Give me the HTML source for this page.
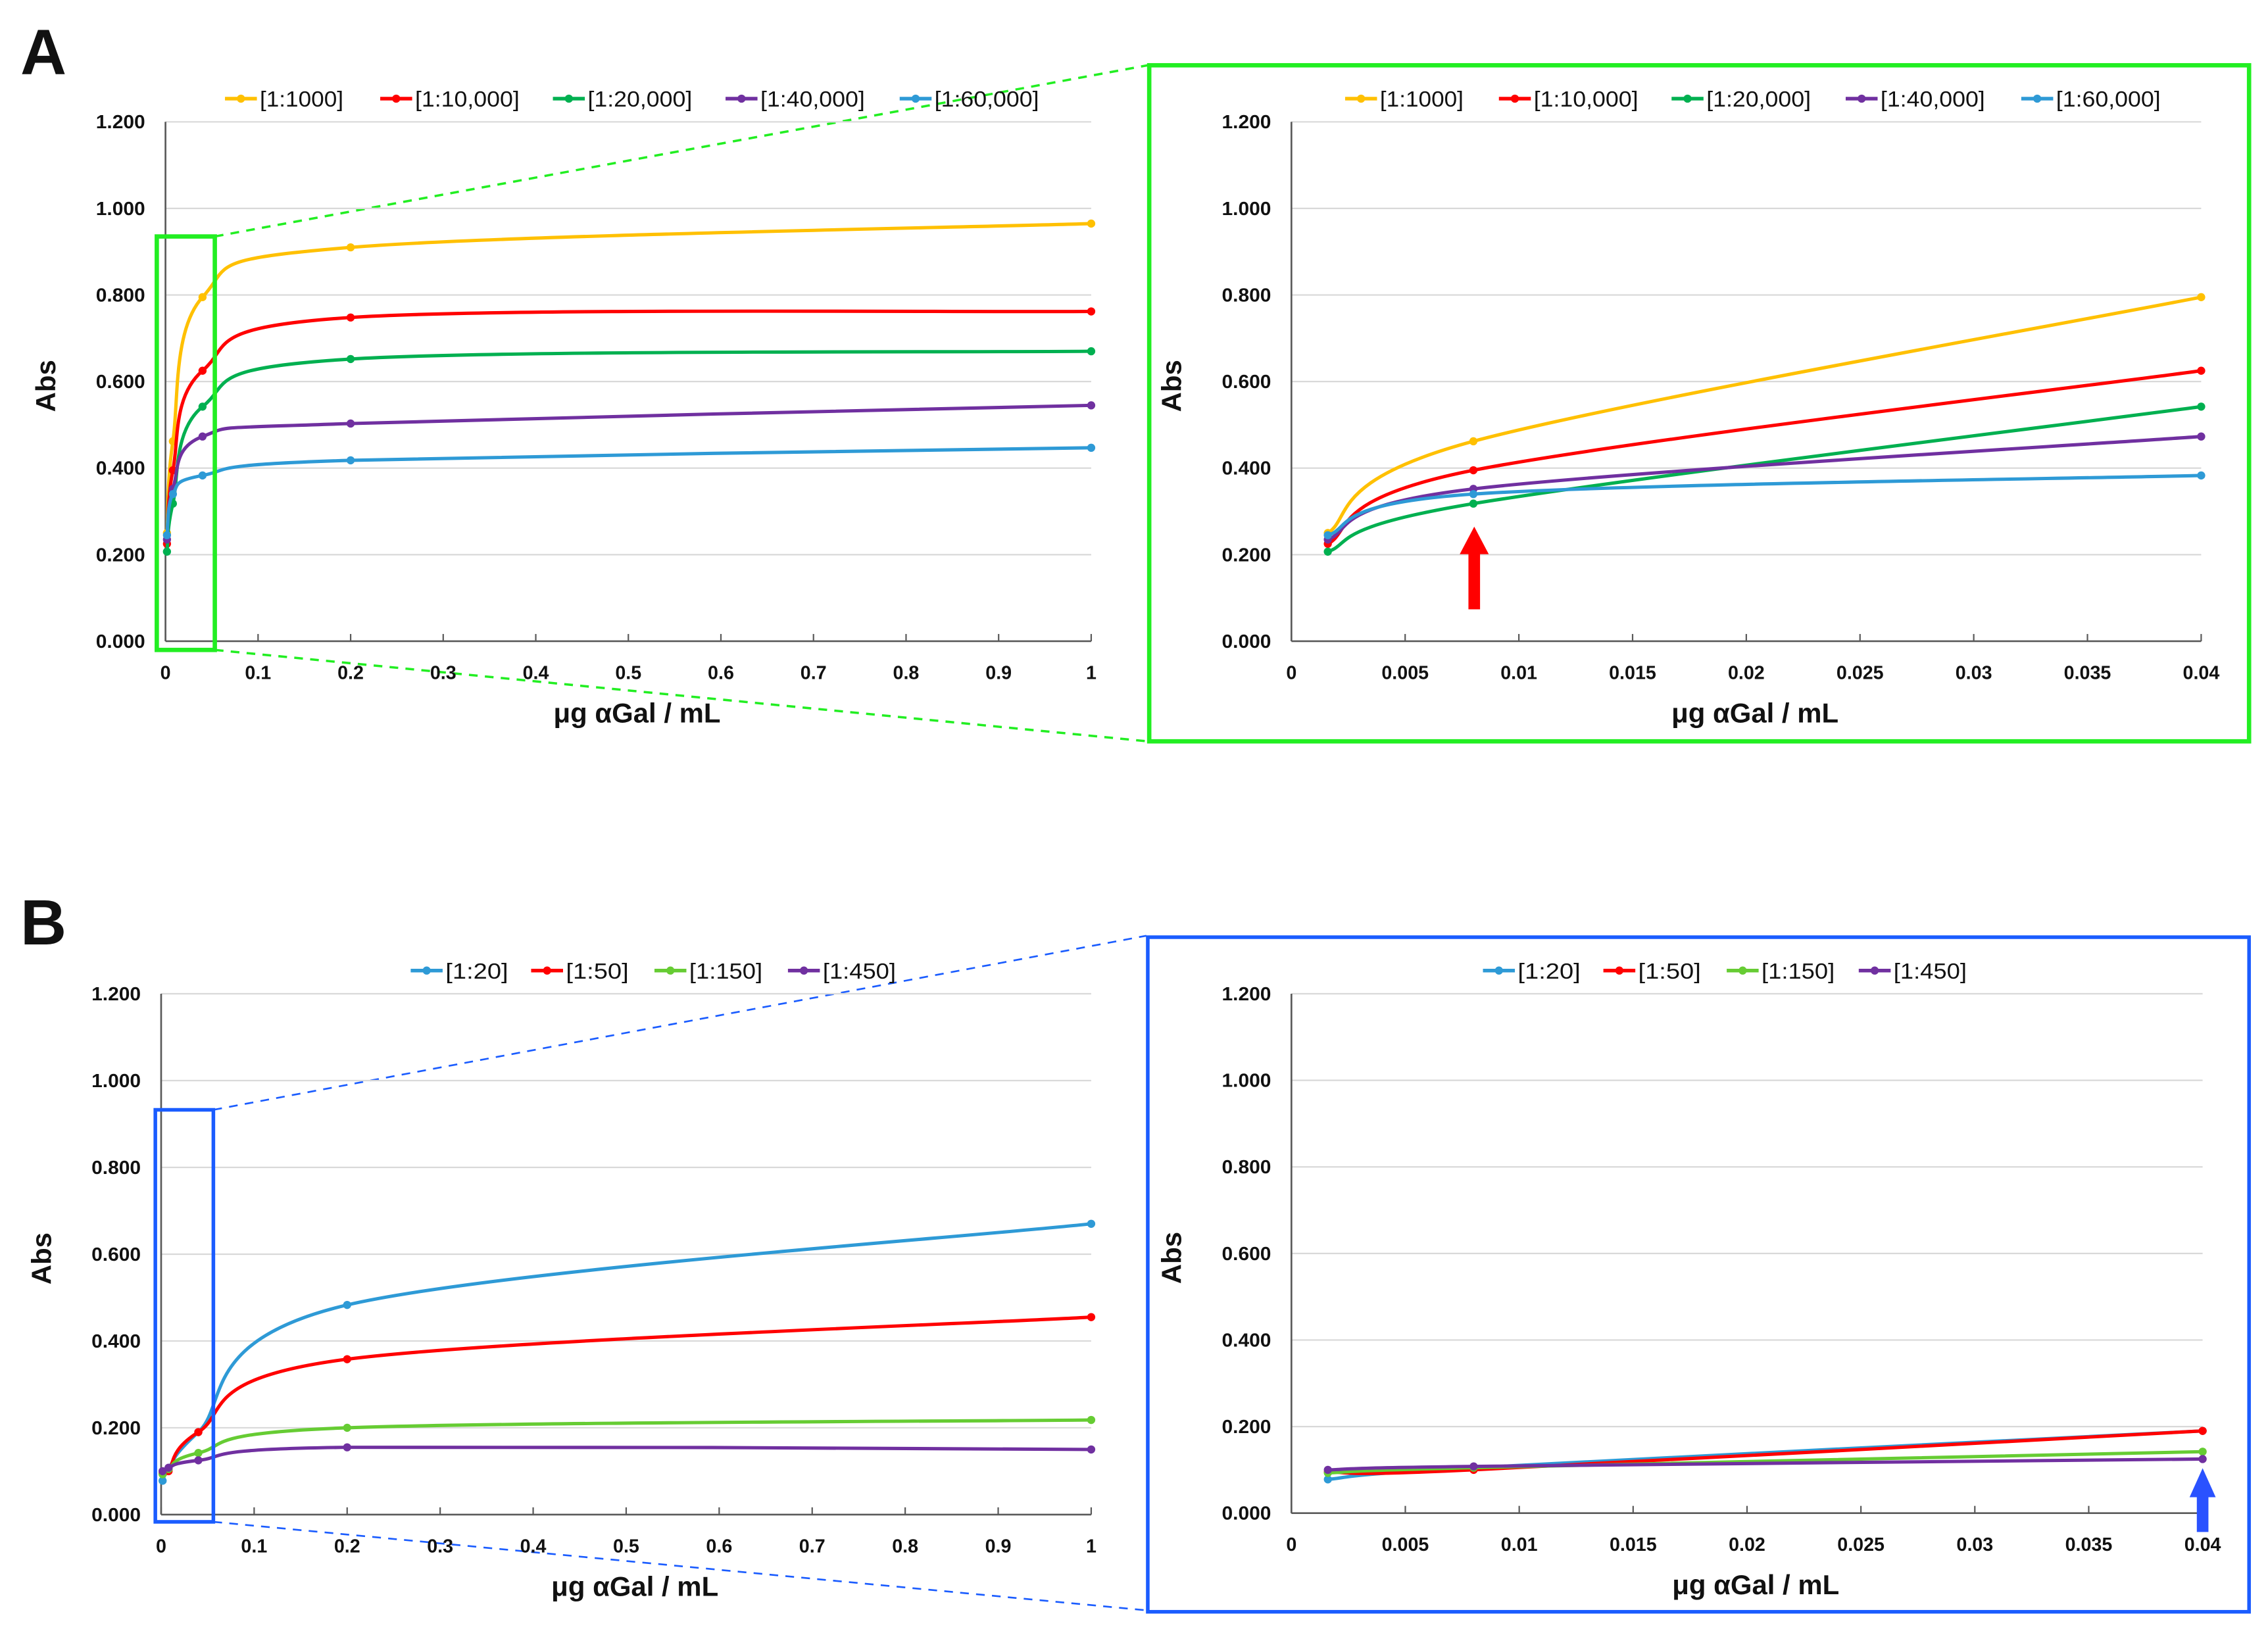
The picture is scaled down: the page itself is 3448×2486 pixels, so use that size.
<!DOCTYPE html>
<html><head><meta charset="utf-8">
<style>
html,body{margin:0;padding:0;background:#fff;}
svg{display:block;}
text{font-family:"Liberation Sans",sans-serif;fill:#111;}
</style></head>
<body>
<svg id="fig" width="3448" height="2486" viewBox="0 0 1563 1127" xmlns="http://www.w3.org/2000/svg">
<rect x="0" y="0" width="1563" height="1127" fill="#fff"/>
<text x="14" y="51" font-size="44" font-weight="bold">A</text>
<text x="14" y="651" font-size="44" font-weight="bold">B</text>
<!-- zoom boxes & connectors -->
<g stroke="#22ee22" stroke-width="1.6" stroke-dasharray="6,5" fill="none">
<line x1="148" y1="163" x2="791" y2="45"/>
<line x1="148" y1="448" x2="791" y2="511"/>
</g>
<g stroke="#1a5cff" stroke-width="1.2" stroke-dasharray="6,5" fill="none">
<line x1="147" y1="765" x2="790" y2="645"/>
<line x1="147" y1="1049" x2="790" y2="1110"/>
</g>
<rect x="792" y="45" width="758" height="466" fill="#fff" stroke="#22ee22" stroke-width="3"/>
<rect x="791" y="646" width="759" height="465" fill="#fff" stroke="#1a5cff" stroke-width="2.5"/>
<g id="charts"></g>
<rect x="108" y="163" width="40" height="285" fill="none" stroke="#22ee22" stroke-width="3"/>
<rect x="107" y="765" width="40" height="284" fill="none" stroke="#1a5cff" stroke-width="2.5"/>
<g fill="#ff0000">
<rect x="1012" y="380" width="8" height="40"/>
<polygon points="1006,382 1026,382 1016,363"/>
</g>
<g fill="#2a52ff">
<rect x="1514" y="1030" width="8" height="26"/>
<polygon points="1509,1032 1527,1032 1518,1012"/>
</g>
</svg>
<script>
// ---- data ----
const xA = [0.0016, 0.008, 0.04, 0.2, 1];
const namesA = ["[1:1000]", "[1:10,000]", "[1:20,000]", "[1:40,000]", "[1:60,000]"];
const colorsA = ["#ffc000", "#ff0000", "#00b050", "#7030a0", "#2e9ad6"];
const a1000 = [0.250, 0.462, 0.795, 0.910, 0.965];
const a10000 = [0.225, 0.395, 0.625, 0.748, 0.762];
const a20000 = [0.207, 0.318, 0.542, 0.652, 0.670];
const a40000 = [0.235, 0.352, 0.473, 0.503, 0.545];
const a60000 = [0.245, 0.340, 0.383, 0.418, 0.447];
const xB = [0.0016, 0.008, 0.04, 0.2, 1];
const namesB = ["[1:20]", "[1:50]", "[1:150]", "[1:450]"];
const colorsB = ["#2e9ad6", "#ff0000", "#66cc33", "#7030a0"];
const b20 = [0.078, 0.105, 0.190, 0.483, 0.670];
const b50 = [0.095, 0.100, 0.190, 0.358, 0.455];
const b150 = [0.093, 0.105, 0.142, 0.200, 0.218];
const b450 = [0.100, 0.108, 0.125, 0.155, 0.150];
const yTicks = ["0.000", "0.200", "0.400", "0.600", "0.800", "1.000", "1.200"];
const xTicksFull = ["0", "0.1", "0.2", "0.3", "0.4", "0.5", "0.6", "0.7", "0.8", "0.9", "1"];
const xTicksZoom = ["0", "0.005", "0.01", "0.015", "0.02", "0.025", "0.03", "0.035", "0.04"];

const NS = "http://www.w3.org/2000/svg";
const root = document.getElementById("charts");
function mk(tag, attrs, parent) {
  const e = document.createElementNS(NS, tag);
  for (const k in attrs) e.setAttribute(k, attrs[k]);
  parent.appendChild(e);
  return e;
}
function smoothPath(pts) {
  let d = "M" + pts[0][0] + "," + pts[0][1];
  for (let i = 0; i < pts.length - 1; i++) {
    const p0 = pts[Math.max(0, i - 1)], p1 = pts[i], p2 = pts[i + 1], p3 = pts[Math.min(pts.length - 1, i + 2)];
    const t = 1 / 6;
    const c1 = [p1[0] + (p2[0] - p0[0]) * t, p1[1] + (p2[1] - p0[1]) * t];
    const c2 = [p2[0] - (p3[0] - p1[0]) * t, p2[1] - (p3[1] - p1[1]) * t];
    d += " C" + c1[0] + "," + c1[1] + " " + c2[0] + "," + c2[1] + " " + p2[0] + "," + p2[1];
  }
  return d;
}
function chart(cfg) {
  const g = mk("g", {}, root);
  
  
  const xs = v => cfg.x0 + (v - cfg.xmin) / (cfg.xmax - cfg.xmin) * (cfg.x1 - cfg.x0);
  const ys = v => cfg.y0 - v / 1.2 * (cfg.y0 - cfg.y1);
  // gridlines and y labels
  yTicks.forEach((t, i) => {
    const y = ys(parseFloat(t));
    if (i > 0) {
      const gl = mk("line", {x1: cfg.x0, x2: cfg.x1, y1: y, y2: y, stroke: "#d9d9d9", "stroke-width": 1}, g);
      
      
    }
    const tl = mk("text", {x: cfg.x0 - 14, y: y + 4.5, "font-size": 13, "font-weight": "bold", "text-anchor": "end", textLength: 34, lengthAdjust: "spacingAndGlyphs"}, g);
    tl.textContent = t;
    
    
  });
  // axes
  const ax = mk("line", {x1: cfg.x0, x2: cfg.x0, y1: cfg.y1, y2: cfg.y0, stroke: "#595959", "stroke-width": 1.2}, g);
  
  
  const bx = mk("line", {x1: cfg.x0, x2: cfg.x1, y1: cfg.y0, y2: cfg.y0, stroke: "#595959", "stroke-width": 1.2}, g);
  
  
  cfg.xt.forEach(t => {
    const x = xs(parseFloat(t));
    const tk = mk("line", {x1: x, x2: x, y1: cfg.y0, y2: cfg.y0 - 5, stroke: "#595959", "stroke-width": 1}, g);
    
    
    const tl = mk("text", {x: x, y: cfg.y0 + 26, "font-size": 13, "font-weight": "bold", "text-anchor": "middle"}, g);
    tl.textContent = t;
    
    
  });
  const xt = mk("text", {x: (cfg.x0 + cfg.x1) / 2 + 6, y: cfg.y0 + 56, "font-size": 19, "font-weight": "bold", "text-anchor": "middle"}, g);
  xt.textContent = "μg αGal / mL";
  
  
  const cy = (cfg.y0 + cfg.y1) / 2 + 3;
  const yt = mk("text", {x: cfg.x0 - 76, y: cy, "font-size": 19, "font-weight": "bold", "text-anchor": "middle", transform: "rotate(-90 " + (cfg.x0 - 76) + " " + cy + ")"}, g);
  yt.textContent = "Abs";
  
  
  // series
  cfg.series.forEach((s, i) => {
    const pts = [];
    cfg.xv.forEach((xv, j) => { if (xv <= cfg.xmax + 1e-9) pts.push([xs(xv), ys(s[j])]); });
    const p = mk("path", {d: smoothPath(pts), fill: "none", stroke: cfg.colors[i], "stroke-width": 2.3, "stroke-linejoin": "round"}, g);
    
    
    pts.forEach(pt => {
      const c = mk("circle", {cx: pt[0], cy: pt[1], r: 2.8, fill: cfg.colors[i]}, g);
      
      
    });
  });
  // legend
  cfg.names.forEach((n, i) => {
    const lx = cfg.legX[i];
    const ly = cfg.legY;
    const lg = mk("g", {}, g);
    
    
    mk("line", {x1: lx, x2: lx + 22, y1: ly, y2: ly, stroke: cfg.colors[i], "stroke-width": 2.5}, lg);
    mk("circle", {cx: lx + 11, cy: ly, r: 2.8, fill: cfg.colors[i]}, lg);
    const t = mk("text", {x: lx + 24, y: ly + 5.5, "font-size": 15, textLength: n.length * 7.2, lengthAdjust: "spacingAndGlyphs"}, lg);
    t.textContent = n;
  });
}
const seriesA = [a1000, a10000, a20000, a40000, a60000];
const seriesB = [b20, b50, b150, b450];
chart({name: "chart-a-full", x0: 114, x1: 752, y0: 442, y1: 84, xmin: 0, xmax: 1, xv: xA, xt: xTicksFull, series: seriesA, colors: colorsA, names: namesA, legY: 68, legX: [155, 262, 381, 500, 620]});
chart({name: "chart-a-zoom", x0: 890, x1: 1517, y0: 442, y1: 84, xmin: 0, xmax: 0.04, xv: xA, xt: xTicksZoom, series: seriesA, colors: colorsA, names: namesA, legY: 68, legX: [927, 1033, 1152, 1272, 1393]});
chart({name: "chart-b-full", x0: 111, x1: 752, y0: 1044, y1: 685, xmin: 0, xmax: 1, xv: xB, xt: xTicksFull, series: seriesB, colors: colorsB, names: namesB, legY: 669, legX: [283, 366, 451, 543]});
chart({name: "chart-b-zoom", x0: 890, x1: 1518, y0: 1043, y1: 685, xmin: 0, xmax: 0.04, xv: xB, xt: xTicksZoom, series: seriesB, colors: colorsB, names: namesB, legY: 669, legX: [1022, 1105, 1190, 1281]});
</script>
</body></html>
